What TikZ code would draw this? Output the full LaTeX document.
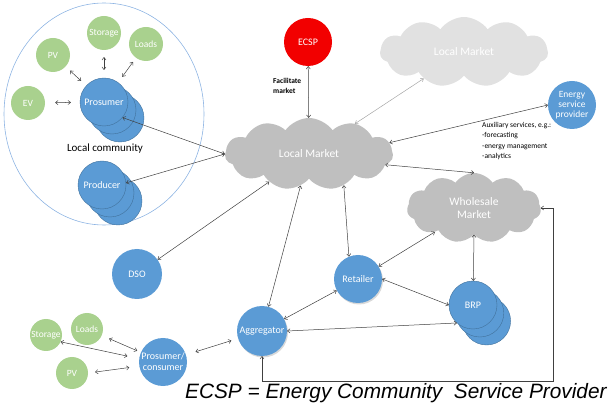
\documentclass[tikz,border=0pt]{standalone}
\usepackage{fontspec}
\setmainfont{Carlito}
\newfontfamily\captionfont{Liberation Sans}
\usetikzlibrary{calc,arrows.meta,shapes.symbols,shadows}

\definecolor{blueC}{HTML}{5B9BD5}
\definecolor{blueD}{HTML}{41719C}
\definecolor{greenC}{HTML}{A9D18E}
\definecolor{redC}{HTML}{F20000}
\definecolor{grayC}{HTML}{BFBFBF}
\definecolor{grayL}{HTML}{E1E1E1}
\definecolor{lineC}{HTML}{404040}
\definecolor{lineL}{HTML}{A6A6A6}
\definecolor{ringC}{HTML}{8EB4E3}

\begin{document}
\begin{tikzpicture}[
        x=1pt, y=-1pt,
        >={To[length=3pt, width=4.5pt]},
        every node/.style={inner sep=0, align=center, text=white, font=\fontsize{10}{11}\selectfont},
        blob/.style={circle, fill=blueC, draw=blueD, line width=.4pt, minimum size=48pt},
        leaf/.style={circle, fill=greenC, minimum size=34pt, font=\fontsize{9.5}{10}\selectfont},
        puff/.style={cloud, cloud puffs=11, cloud puff arc=110, aspect=2.3, fill=grayC, font=\fontsize{11.5}{13}\selectfont},
        link/.style={<->, draw=lineC, line width=.5pt},
        note/.style={text=black, align=left, font=\fontsize{7.5}{10.3}\selectfont},
        lift/.style={drop shadow={opacity=.3, shadow xshift=1pt, shadow yshift=-1.5pt}},
    ]

    \useasboundingbox (0,0) rectangle (608,403);

    % Define the local community.
    \draw[ringC, line width=.6pt] (104,114) ellipse [x radius=100, y radius=111];
    \node[leaf] (pv) at (53,55) {PV};
    \node[leaf] (storage) at (104,33) {Storage};
    \node[leaf] (loads) at (146,44) {Loads};
    \node[leaf] (ev) at (28,103) {EV};
    \foreach \d/\n in {16/c,8/b}
        \node[blob] (pros\n) at (104+\d,102+\d) {};
    \node[blob] (prosumer) at (104,102) {Prosumer};
    \node[text=black, font=\fontsize{11}{12}\selectfont] (commlabel) at (105,149) {Local community};
    \foreach \d/\n in {16/c,8/b}
        \node[blob] (prod\n) at (102+\d,185+\d) {};
    \node[blob] (producer) at (102,185) {Producer};

    % Define the markets.
    \node[blob, fill=redC, draw=none] (ecsp) at (308,42) {ECSP};
    \node[note, anchor=north west, font=\bfseries\fontsize{7.5}{10}\selectfont] (facil) at (273,78) {Facilitate\\market};
    \node[puff, minimum width=168pt, minimum height=72pt] (lmkt) at (309,154) {Local Market};
    \node[puff, fill=grayL, minimum width=168pt, minimum height=70pt] (lmkt2) at (464,52) {Local Market};
    \node[blob, draw=none, font=\fontsize{9.5}{10}\selectfont] (esp) at (572,105) {Energy\\service\\provider};
    \node[note, anchor=north west] (aux) at (482,122) {Auxiliary services, e.g.:\\-forecasting\\-energy management\\-analytics};
    \node[puff, minimum width=134pt, minimum height=70pt] (wmkt) at (474,208) {Wholesale\\Market};

    % Define the actors.
    \node[blob, draw=none, minimum size=50pt] (dso) at (137,274) {DSO};
    \node[blob, draw=none, lift] (retailer) at (358,279) {Retailer};
    \foreach \d/\n in {16/c,8/b}
        \node[blob] (brp\n) at (473+\d*.85,305+\d) {};
    \node[blob] (brp) at (473,305) {BRP};
    \node[blob, draw=none, lift, minimum size=50pt] (aggregator) at (262,331) {Aggregator};
    \node[blob, draw=none] (pcons) at (163,362) {Prosumer/\\consumer};
    \node[leaf, minimum size=32pt] (storage2) at (46,335) {Storage};
    \node[leaf, minimum size=32pt] (loads2) at (87,329) {Loads};
    \node[leaf, minimum size=32pt] (pv2) at (72,373) {PV};

    % Links inside the community.
    \draw[link, shorten <=6pt, shorten >=7pt] (pv) -- (prosumer);
    \draw[link, shorten <=10pt, shorten >=9pt] (ev) -- (prosumer);
    \draw[link, shorten <=7pt, shorten >=8pt] (storage) -- (prosumer);
    \draw[link, shorten <=5pt, shorten >=7pt] (loads) -- (prosumer);

    % Links to the local market.
    \draw[link] (prosumer.-40) -- (lmkt.west);
    \draw[link] (producer.5) -- (lmkt.west);
    \draw[link] (ecsp) -- (lmkt);
    \draw[link, draw=lineL] (lmkt) -- (lmkt2);
    \draw[link] (lmkt.8) -- (esp.west);
    \draw[link] (lmkt.-8) -- (wmkt.north);
    \draw[link] (dso) -- (lmkt);
    \draw[link] (aggregator) -- (lmkt);
    \draw[link] (retailer.112) -- (lmkt.-42);

    % Links between the actors.
    \draw[link] (retailer) -- (wmkt);
    \draw[link] (wmkt.south) -- (brp);
    \draw[link] (retailer.east) -- (brp.west);
    \draw[link] (aggregator) -- (retailer);
    \draw[link] (aggregator.east) -- (brp.228);
    \draw[link, shorten <=10pt, shorten >=7pt] (pcons) -- (aggregator);
    \coordinate (loop) at (553,381);
    \draw[link] (aggregator.south) |- (loop) |- (wmkt.east);

    % Links of the prosumer/consumer.
    \draw[link, shorten <=8pt, shorten >=4pt] (loads2) -- (pcons);
    \draw[link, shorten >=12pt] (storage2.-25) -- (pcons.172);
    \draw[link, shorten <=7pt, shorten >=10pt] (pv2.east) -- (pcons.190);

    \node[anchor=base west, text=black, font=\captionfont\itshape\fontsize{20.8}{24}\selectfont] (caption) at (185,399) {ECSP = Energy Community\ \ Service Provider};
\end{tikzpicture}
\end{document}
